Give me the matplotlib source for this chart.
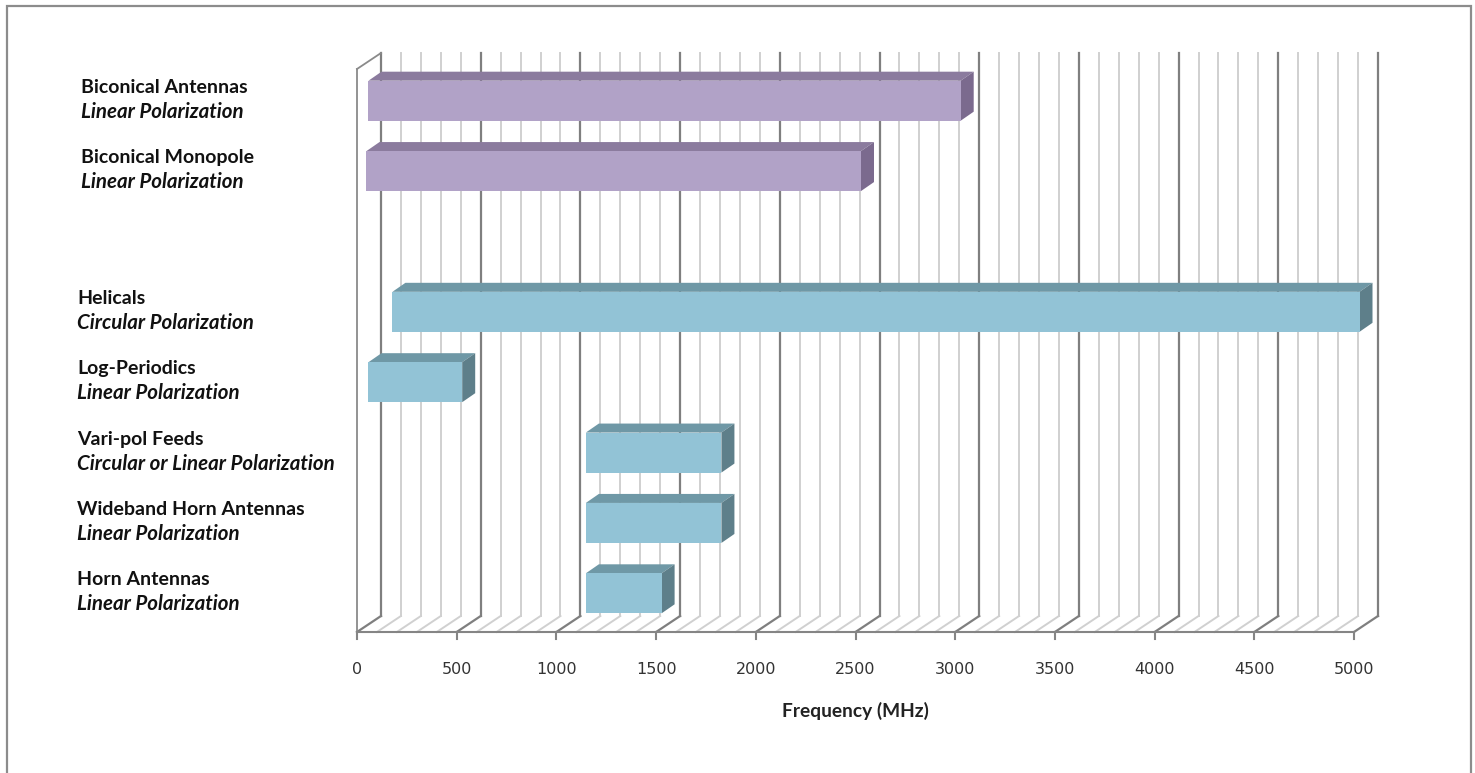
import numpy as np
import matplotlib
matplotlib.use("Agg")
import matplotlib.pyplot as plt
from matplotlib.patches import Polygon, Rectangle
from matplotlib.transforms import blended_transform_factory

# antenna families, top to bottom (None = empty slot between the two groups)
names = ["Biconical Antennas", "Biconical Monopole", None, "Helicals", "Log-Periodics",
         "Vari-pol Feeds", "Wideband Horn Antennas", "Horn Antennas"]
polarization = ["Linear Polarization", "Linear Polarization", None, "Circular Polarization",
                "Linear Polarization", "Circular or Linear Polarization",
                "Linear Polarization", "Linear Polarization"]
freq_low = [30, 20, None, 150, 30, 1120, 1120, 1120]     # MHz
freq_high = [3000, 2500, None, 5000, 500, 1800, 1800, 1500]  # MHz
family = ["bicon", "bicon", None, "other", "other", "other", "other", "other"]
xticks = np.arange(0, 5001, 500)

W, H = 1475, 773
fig = plt.figure(figsize=(W / 100, H / 100), dpi=100)
# front plane of the fake 3d box
ax = fig.add_axes([357 / W, (H - 632) / H, 997 / W, 563 / H])
nrows = len(names)
ax.set_xlim(0, 5000)
ax.set_ylim(0, nrows)
ax.axis("off")

def px_x(p):
    return p * 5000 / 997

def px_y(p):
    return p * nrows / 563

DX, DY = px_x(24), px_y(16)          # depth of the box
FX, FY = px_x(5.5), px_y(3.5)        # bar front face inset
BX, BY = px_x(13), px_y(9)           # bar depth
BH = px_y(40)                        # bar height

colors = {
    "bicon": ("#B1A2C7", "#8B7B9E", "#7B6A8E"),
    "other": ("#92C3D6", "#6F98A6", "#5E7F8A"),
}

# walls and floor grid
for v in range(0, 5001, 100):
    major = v % 500 == 0
    c = "#7f7f7f" if major else "#d0d0d0"
    lw = 1.6 if major else 1.4
    ax.plot([v + DX, v + DX], [DY, nrows + DY], color=c, lw=lw, zorder=1, clip_on=False)
    ax.plot([v, v + DX], [0, DY], color=c, lw=lw, zorder=1, clip_on=False)

ax.plot([0, 0], [0, nrows], color="#8a8a8a", lw=1.3, zorder=2, clip_on=False)
ax.plot([0, DX], [nrows, nrows + DY], color="#8a8a8a", lw=1.3, zorder=2, clip_on=False)
ax.plot([0, 5000], [0, 0], color="#858585", lw=1.5, zorder=2, clip_on=False)
for v in xticks:
    ax.plot([v, v], [0, -px_y(7)], color="#858585", lw=1.5, zorder=2, clip_on=False)
    ax.text(v, -px_y(37), str(v), ha="center", va="center", fontsize=11.5,
            family="DejaVu Sans", color="#333333")

ax.text(2500, -px_y(79), "Frequency (MHz)", ha="center", va="center", fontsize=13.8,
        family=["Lato", "DejaVu Sans"], fontweight="bold", color="#222222")

label_tr = blended_transform_factory(fig.transFigure, ax.transData)

for i in range(nrows):
    if names[i] is None:
        continue
    yc = nrows - i - 0.5
    front, top, side = colors[family[i]]
    x0, x1 = freq_low[i] + FX, freq_high[i] + FX
    yb = yc + FY - BH / 2
    yt = yc + FY + BH / 2
    ax.add_patch(Polygon([(x0, yt), (x1, yt), (x1 + BX, yt + BY), (x0 + BX, yt + BY)],
                         closed=True, facecolor=top, edgecolor="none", zorder=3, clip_on=False))
    ax.add_patch(Polygon([(x1, yb), (x1, yt), (x1 + BX, yt + BY), (x1 + BX, yb + BY)],
                         closed=True, facecolor=side, edgecolor="none", zorder=3, clip_on=False))
    ax.add_patch(Rectangle((x0, yb), x1 - x0, yt - yb, facecolor=front,
                           edgecolor="none", zorder=4, clip_on=False))

    lx = (81 if family[i] == "bicon" else 77) / W
    name_y = yc + FY + px_y(8)
    ax.text(lx, name_y, names[i], transform=label_tr, ha="left", va="baseline",
            fontsize=14, fontweight="bold", family=["Lato", "DejaVu Sans"], color="#111111")
    ax.text(lx, name_y - px_y(25), polarization[i], transform=label_tr, ha="left",
            va="baseline", fontsize=14.8, fontweight="bold", fontstyle="italic",
            family=["Lato", "DejaVu Sans"], color="#111111")

# outer chart border (bottom edge lies below the picture)
fig.patches.append(Rectangle((7 / W, -0.05), (1471 - 7) / W, (H - 6) / H + 0.05,
                             transform=fig.transFigure, fill=False,
                             edgecolor="#8c8c8c", lw=1.6))

fig.savefig("out.png", dpi=100)
